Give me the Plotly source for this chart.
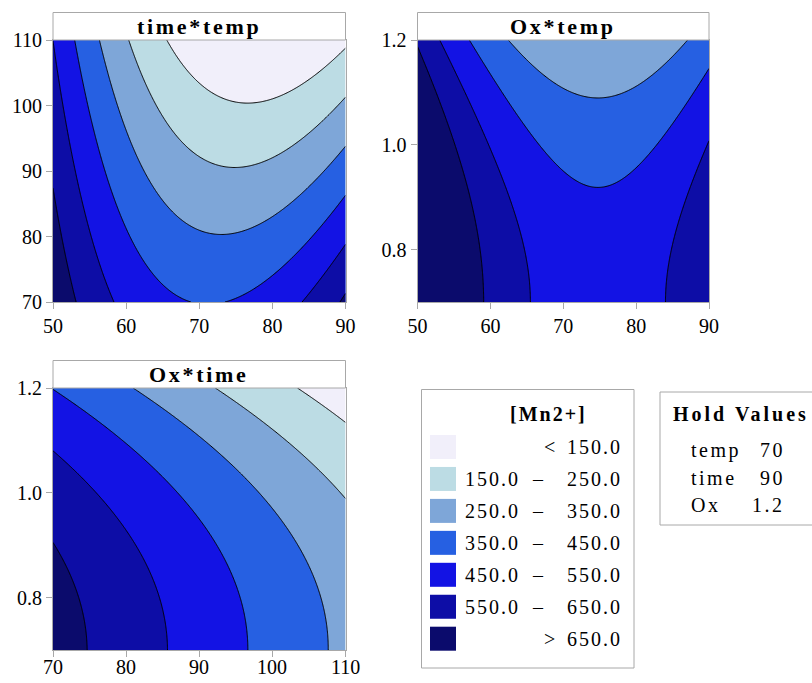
import numpy as np
import plotly.graph_objects as go

# ---------------- data ----------------
factors = ["temp", "time", "Ox"]
factor_low = [50, 70, 0.7]
factor_high = [90, 110, 1.2]
hold_values = [70, 90, 1.2]
hold_labels = ["70", "90", "1.2"]

# fitted response surface for [Mn2+] in coded units (-1 .. 1)
intercept = 450.0
linear_coef = [-119.0, -180.0, -120.5]          # temp, time, Ox
quadratic_coef = [250.0, 0.0, -60.0]            # temp^2, time^2, Ox^2
interaction_pairs = [(0, 1), (0, 2), (1, 2)]    # temp*time, temp*Ox, time*Ox
interaction_coef = [-89.0, 0.0, 2.0]

contour_levels = [150, 250, 350, 450, 550, 650]
band_colors = ["#F1EFFA", "#BCDCE4", "#7EA6D8", "#2660E2", "#1313E4", "#0D0DA6", "#0B0B6C"]
legend_low = ["", "150.0", "250.0", "350.0", "450.0", "550.0", ""]
legend_high = ["< 150.0", "250.0", "350.0", "450.0", "550.0", "650.0", "> 650.0"]

panel_titles = ["time*temp", "Ox*temp", "Ox*time"]
panel_x_factor = [0, 0, 1]
panel_y_factor = [1, 2, 2]
x_ticks = {0: [50, 60, 70, 80, 90], 1: [70, 80, 90, 100, 110]}
y_ticks = {1: [70, 80, 90, 100, 110], 2: [0.8, 1.0, 1.2]}

# ---------------- layout geometry (pixels) ----------------
W, H = 812, 683
panel_px = [(53, 345.5, 40, 302), (417.5, 709, 40, 302), (53, 345.5, 388, 650)]
title_h = 27.5

def px_x(v):
    return v / W

def px_y(v):
    return 1 - v / H

def coded(i, v):
    mid = (factor_low[i] + factor_high[i]) / 2
    half = (factor_high[i] - factor_low[i]) / 2
    return (v - mid) / half

def predict(vals):
    c = [coded(i, v) for i, v in enumerate(vals)]
    z = intercept
    for i in range(3):
        z = z + linear_coef[i] * c[i] + quadratic_coef[i] * c[i] ** 2
    for (i, j), b in zip(interaction_pairs, interaction_coef):
        z = z + b * c[i] * c[j]
    return z

# discrete colorscale: colour k sampled for band centres (100, 200, ... 700)
colorscale = []
nb = len(band_colors)
for k, col in enumerate(band_colors):
    lo = max(0.0, (2 * k - 1) / (2 * (nb - 1)))
    hi = min(1.0, (2 * k + 1) / (2 * (nb - 1)))
    colorscale.append([lo, col])
    colorscale.append([hi, col])

fig = go.Figure()
FONT = "Liberation Serif, Times New Roman, serif"
AXCOL = "#A8A8A8"
TICKFONT = dict(family=FONT, size=20, color="black")

shapes = []
annotations = []

def spaced(text, sp):
    return "<span style='letter-spacing:%spx'>%s</span>" % (sp, text)

for p in range(3):
    xi, yi = panel_x_factor[p], panel_y_factor[p]
    xs = np.linspace(factor_low[xi], factor_high[xi], 161)
    ys = np.linspace(factor_low[yi], factor_high[yi], 161)
    X, Y = np.meshgrid(xs, ys)
    vals = [np.full_like(X, hv, dtype=float) for hv in hold_values]
    vals[xi] = X
    vals[yi] = Y
    Z = predict(vals)
    sfx = "" if p == 0 else str(p + 1)
    fig.add_trace(go.Contour(
        x=xs, y=ys, z=Z,
        xaxis="x" + sfx, yaxis="y" + sfx,
        colorscale=colorscale, showscale=False,
        contours=dict(start=contour_levels[0], end=contour_levels[-1],
                      size=contour_levels[1] - contour_levels[0],
                      coloring="fill", showlines=True),
        line=dict(color="black", width=1.0, smoothing=0.6),
        hoverinfo="skip",
    ))
    x0, x1, y0, y1 = panel_px[p]
    yt = y_ticks[yi]
    common = dict(showgrid=False, zeroline=False, showline=True, mirror=True,
                  linecolor=AXCOL, linewidth=1, ticks="outside", ticklen=6,
                  tickcolor=AXCOL, automargin=False, tickfont=TICKFONT)
    bottom_panel = (p == 2)
    fig.update_layout(**{
        "xaxis" + sfx: dict(domain=[px_x(x0), px_x(x1)], range=[factor_low[xi], factor_high[xi]],
                            tickvals=x_ticks[xi], anchor="y" + sfx,
                            showticklabels=not bottom_panel, **common),
        "yaxis" + sfx: dict(domain=[px_y(y1), px_y(y0)], range=[factor_low[yi], factor_high[yi]],
                            tickvals=yt, ticktext=[("%g" % v if yi == 1 else "%.1f" % v) for v in yt],
                            anchor="x" + sfx, **common),
    })
    if bottom_panel:
        # tick labels of the lowest panel sit a little closer to the axis (image edge)
        for v in x_ticks[xi]:
            annotations.append(dict(xref="x" + sfx, yref="paper", x=v, y=px_y(666.5),
                                    text="%g" % v, showarrow=False, xanchor="center",
                                    yanchor="middle", font=TICKFONT))
    shapes.append(dict(type="rect", xref="paper", yref="paper",
                       x0=px_x(x0), x1=px_x(x1), y0=px_y(y0), y1=px_y(y0 - title_h),
                       line=dict(color=AXCOL, width=1), fillcolor="white", layer="above"))
    annotations.append(dict(xref="paper", yref="paper", x=px_x((x0 + x1) / 2), y=px_y(y0 - title_h / 2 + 0.5),
                            text="<b>%s</b>" % spaced(panel_titles[p], 2.7),
                            showarrow=False, xanchor="center", yanchor="middle",
                            font=dict(family=FONT, size=22, color="black")))

# legend box
shapes.append(dict(type="rect", xref="paper", yref="paper", x0=px_x(421.5), x1=px_x(634),
                   y0=px_y(668), y1=px_y(389.5), line=dict(color=AXCOL, width=1), fillcolor="white"))
annotations.append(dict(xref="paper", yref="paper", x=px_x(548), y=px_y(414),
                        text="<b>%s</b>" % spaced("[Mn2+]", 2), showarrow=False,
                        xanchor="center", yanchor="middle", font=dict(family=FONT, size=20, color="black")))
LEGFONT = dict(family=FONT, size=20, color="black")
for k in range(nb):
    cy = 447 + k * 31.95
    shapes.append(dict(type="rect", xref="paper", yref="paper", x0=px_x(430), x1=px_x(456),
                       y0=px_y(cy + 12), y1=px_y(cy - 12), line=dict(width=0), fillcolor=band_colors[k]))
    if legend_low[k]:
        annotations.append(dict(xref="paper", yref="paper", x=px_x(522), y=px_y(cy),
                                text=spaced(legend_low[k], 2), showarrow=False, xanchor="right",
                                yanchor="middle", font=LEGFONT))
        annotations.append(dict(xref="paper", yref="paper", x=px_x(538), y=px_y(cy),
                                text="\u2013", showarrow=False, xanchor="center", yanchor="middle",
                                font=LEGFONT))
    parts = legend_high[k].split(" ")
    if len(parts) == 2:
        annotations.append(dict(xref="paper", yref="paper", x=px_x(549), y=px_y(cy),
                                text=parts[0], showarrow=False, xanchor="center", yanchor="middle",
                                font=LEGFONT))
        num = parts[1]
    else:
        num = parts[0]
    annotations.append(dict(xref="paper", yref="paper", x=px_x(624), y=px_y(cy),
                            text=spaced(num, 2), showarrow=False, xanchor="right", yanchor="middle",
                            font=LEGFONT))

# hold values box
shapes.append(dict(type="rect", xref="paper", yref="paper", x0=px_x(660), x1=1.02,
                   y0=px_y(525), y1=px_y(392), line=dict(color=AXCOL, width=1), fillcolor="white"))
annotations.append(dict(xref="paper", yref="paper", x=px_x(671), y=px_y(414),
                        text="<b>%s</b>" % spaced("Hold Values", 3), showarrow=False,
                        xanchor="left", yanchor="middle", font=dict(family=FONT, size=20, color="black")))
for k in range(3):
    cy = 450 + k * 27.5
    annotations.append(dict(xref="paper", yref="paper", x=px_x(689), y=px_y(cy),
                            text=spaced(factors[k], 2.5), showarrow=False,
                            xanchor="left", yanchor="middle", font=LEGFONT))
    annotations.append(dict(xref="paper", yref="paper", x=px_x(787), y=px_y(cy),
                            text=spaced(hold_labels[k], 2.5), showarrow=False,
                            xanchor="right", yanchor="middle", font=LEGFONT))

fig.update_layout(width=W, height=H, margin=dict(l=0, r=0, t=0, b=0, autoexpand=False),
                  paper_bgcolor="white", plot_bgcolor="white", showlegend=False,
                  shapes=shapes, annotations=annotations)
fig.write_html("out.html", config={"displayModeBar": False},
               post_script="document.body.style.margin='0px';document.body.style.overflow='hidden';")
